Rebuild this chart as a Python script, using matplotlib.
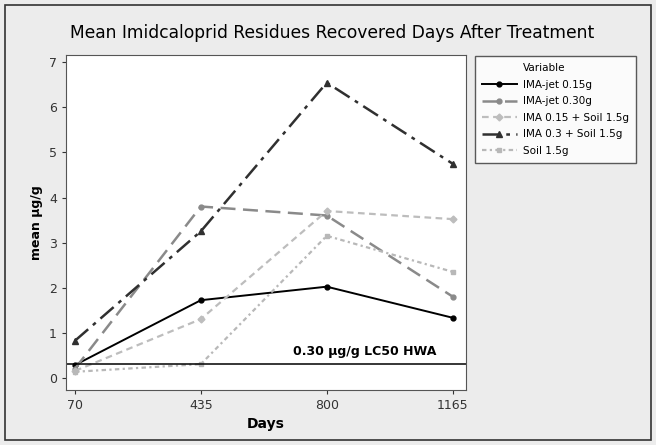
import matplotlib.pyplot as plt
from matplotlib.lines import Line2D
from matplotlib.patches import Rectangle

# Days after treatment
days = [70, 435, 800, 1165]

# Mean residues (ug/g) per treatment
ima_jet_015 = [0.28, 1.72, 2.02, 1.33]
ima_jet_030 = [0.20, 3.80, 3.60, 1.80]
ima015_soil = [0.15, 1.30, 3.70, 3.52]
ima03_soil = [0.82, 3.25, 6.55, 4.75]
soil_15 = [0.13, 0.30, 3.15, 2.35]

lc50 = 0.30

fig = plt.figure(figsize=(6.56, 4.45), dpi=100, facecolor="#ececec")
ax = fig.add_axes([0.1006, 0.124, 0.6094, 0.752])

ax.plot(days, ima_jet_015, color="black", lw=1.4, ls="-", marker="o", ms=3.5,
        label="IMA-jet 0.15g")
ax.plot(days, ima_jet_030, color="#8a8a8a", lw=1.8, ls=(0, (6, 3)), marker="o", ms=3.5,
        label="IMA-jet 0.30g")
ax.plot(days, ima015_soil, color="#bdbdbd", lw=1.6, ls=(0, (3, 2)), marker="D", ms=3.5,
        label="IMA 0.15 + Soil 1.5g")
ax.plot(days, ima03_soil, color="#303030", lw=1.8, ls=(0, (7, 2.5, 1.5, 2.5)), marker="^", ms=4.5,
        label="IMA 0.3 + Soil 1.5g")
ax.plot(days, soil_15, color="#b8b8b8", lw=1.6, ls=(0, (2, 1.5, 1, 1.5)), marker="s", ms=3,
        label="Soil 1.5g")

ax.axhline(lc50, color="black", lw=1.1)
ax.text(1119, 0.58, "0.30 µg/g LC50 HWA", ha="right", va="center",
        fontsize=9, fontweight="bold")

ax.set_xlim(44, 1203)
ax.set_ylim(-0.27, 7.16)
ax.set_xticks(days)
ax.set_yticks(range(0, 8))
ax.tick_params(labelsize=9, colors="#333333", length=3)
ax.set_xlabel("Days", fontsize=10, fontweight="bold")
ax.set_ylabel("mean µg/g", fontsize=9, fontweight="bold")
for s in ax.spines.values():
    s.set_color("#555555")

fig.suptitle("Mean Imidcaloprid Residues Recovered Days After Treatment",
             x=0.506, y=0.945, fontsize=12.3)

# legend with "Variable" header sitting in the label column
handles, labels = ax.get_legend_handles_labels()
header = Line2D([], [], color="none")
leg = ax.legend([header] + handles, ["Variable"] + labels,
                loc="upper left", bbox_to_anchor=(0.724, 0.874),
                bbox_transform=fig.transFigure,
                fontsize=7.5, frameon=True, fancybox=False,
                edgecolor="#333333", handlelength=3.3, borderpad=0.7,
                labelspacing=0.62, handletextpad=0.6, borderaxespad=0)
leg.get_frame().set_linewidth(1.0)

fig.patches.append(Rectangle((0.008, 0.011), 0.984, 0.978, transform=fig.transFigure,
                             fill=False, edgecolor="#333333", lw=1.2))

fig.savefig("out.png", dpi=100, facecolor=fig.get_facecolor())
